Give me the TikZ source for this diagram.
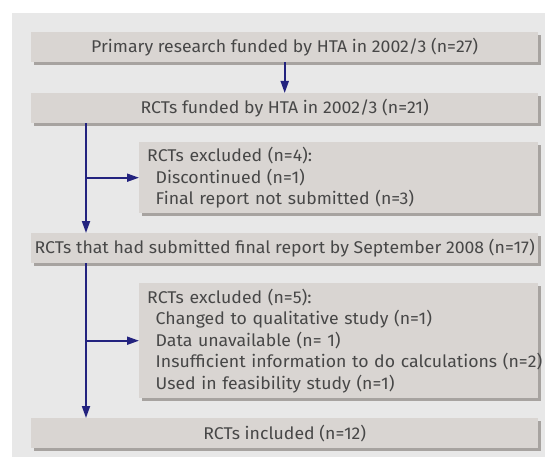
\documentclass[tikz,border=0pt]{standalone}
\usepackage{fontspec}
\setmainfont{Fira Sans}[FakeStretch=1.04]
\usetikzlibrary{arrows.meta,shadows}
\definecolor{panelbg}{HTML}{E8E8E8}
\definecolor{boxfill}{HTML}{D9D5D2}
\definecolor{shadowgrey}{HTML}{A7A3A0}
\definecolor{textgrey}{HTML}{474747}
\definecolor{navy}{HTML}{23237F}
\newcommand{\exclitem}[1]{\mbox{\hspace*{8.5pt}#1}}
\tikzset{
  boxbase/.style={draw=none, fill=boxfill, text=textgrey,
    drop shadow={shadow xshift=3pt, shadow yshift=-3pt, fill=shadowgrey, opacity=1},
    font=\fontsize{17}{21.5}\selectfont},
  mainbox/.style={boxbase, minimum width=507pt, minimum height=30pt, inner sep=0pt, anchor=north west},
  exclbox/.style={boxbase, text width=383pt, inner xsep=8pt, inner ysep=0pt, align=left, anchor=north west},
  arr/.style={draw=navy, line width=1.8pt, -{Triangle[length=12pt,width=8pt]}}
}
\begin{document}
\begin{tikzpicture}[x=1pt,y=-1pt]
\useasboundingbox (0,0) rectangle (545,457);
\fill[panelbg] (12,13) rectangle (545,457);
\node[mainbox] (b1) at (31,32) {Primary research funded by HTA in 2002/3 (n=27)};
\node[mainbox] (b2) at (31,93) {RCTs funded by HTA in 2002/3 (n=21)};
\node[exclbox, minimum height=71pt] (e1) at (139,142) {RCTs excluded (n=4):\\
\exclitem{Discontinued (n=1)}\\
\exclitem{Final report not submitted (n=3)}};
\node[mainbox] (b3) at (31,233) {RCTs that had submitted final report by September 2008 (n=17)};
\node[exclbox, minimum height=115pt] (e2) at (139,283) {RCTs excluded (n=5):\\
\exclitem{Changed to qualitative study (n=1)}\\
\exclitem{Data unavailable (n= 1)}\\
\exclitem{Insufficient information to do calculations (n=2)}\\
\exclitem{Used in feasibility study (n=1)}};
\node[mainbox] (b4) at (31,418) {RCTs included (n=12)};
\coordinate (s1) at (86,123);
\draw[arr] (b1.south) -- (b2.north);
\draw[arr] (b2.south -| s1) -- (b3.north -| s1);
\draw[arr] (s1 |- e1.west) -- (e1.west);
\draw[arr] (b3.south -| s1) -- (b4.north -| s1);
\draw[arr] (s1 |- e2.west) -- (e2.west);
\end{tikzpicture}
\end{document}
